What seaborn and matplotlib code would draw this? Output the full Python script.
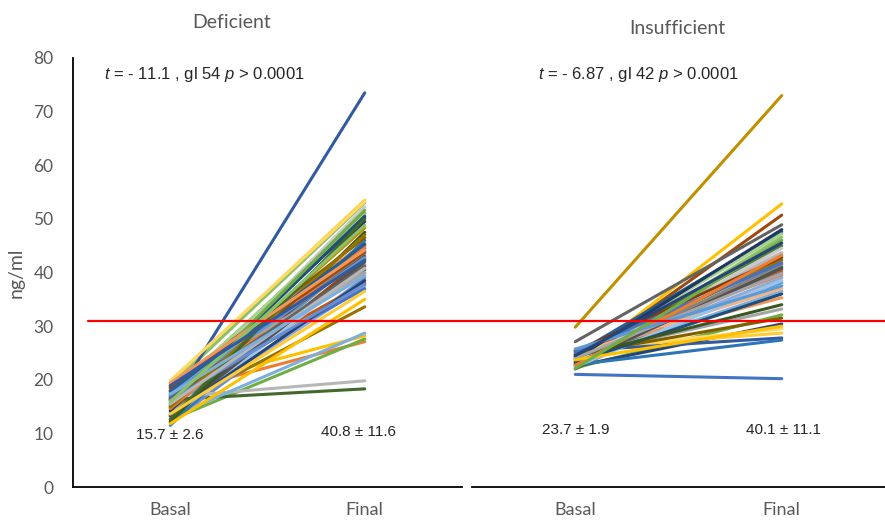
import pandas as pd
import matplotlib.pyplot as plt
import seaborn as sns

# paired values, ng/ml
def_basal = [15.0, 17.5, 16.0, 18.5, 14.0, 12.5, 16.5, 13.5, 17.0, 14.5,
             18.0, 16.3, 12.0, 19.0, 16.8, 19.5, 13.0, 18.8, 15.2, 17.8,
             14.8, 16.2, 11.5, 17.2, 13.8, 18.2, 15.8, 19.8, 12.8, 17.6,
             14.2, 16.6, 13.2, 18.4, 15.6, 12.2, 16.9, 14.6, 19.2, 11.8,
             17.4, 15.4, 13.4, 18.6, 16.4, 14.9, 17.9, 12.6, 16.1, 19.4,
             15.5, 13.6, 17.3, 15.9, 18.9]
def_final = [44.5, 27.1, 41.5, 28.2, 43.5, 27.6, 50.2, 42.5, 40.5, 33.6,
             45.0, 18.3, 39.0, 45.5, 19.8, 53.5, 28.7, 53.0, 73.5, 38.0,
             44.0, 48.3, 46.0, 51.0, 37.5, 39.8, 52.2, 53.2, 41.0, 50.8,
             49.5, 43.0, 42.0, 46.5, 50.5, 47.5, 37.0, 44.8, 40.0, 35.0,
             42.8, 51.6, 38.5, 43.8, 41.2, 47.0, 45.3, 50.0, 37.8, 44.2,
             40.8, 36.5, 39.4, 48.8, 42.3]

ins_basal = [21.0, 25.5, 24.5, 23.0, 24.0, 22.2, 22.5, 23.2, 27.1, 23.8,
             24.8, 22.0, 25.2, 25.0, 24.2, 25.8, 23.5, 22.6, 25.4, 24.6,
             23.4, 29.8, 22.8, 24.4, 23.6, 24.9, 23.1, 25.6, 22.4, 24.1,
             23.9, 25.3, 22.9, 24.7, 23.3, 24.3, 25.1, 22.7, 24.0, 23.7,
             25.7, 22.1, 24.5]
ins_final = [20.2, 39.5, 33.2, 52.8, 38.1, 32.1, 30.4, 50.7, 48.9, 42.3,
             47.6, 41.0, 40.1, 35.3, 43.7, 28.7, 36.5, 46.6, 27.8, 40.5,
             41.5, 73.0, 27.4, 45.0, 39.0, 37.0, 44.5, 29.5, 38.5, 47.2,
             48.0, 42.8, 40.8, 31.5, 36.0, 34.0, 41.8, 43.2, 39.8, 30.0,
             37.5, 46.0, 45.5]

times = ["Basal", "Final"]
groups = ["Deficient", "Insufficient"]
stats_txt = ["$t$ = - 11.1 , gl 54 $p$ > 0.0001", "$t$ = - 6.87 , gl 42 $p$ > 0.0001"]
means_txt = [("15.7 ± 2.6", "40.8 ± 11.6"), ("23.7 ± 1.9", "40.1 ± 11.1")]
cutoff = 31

excel = ["#4472C4", "#ED7D31", "#A5A5A5", "#FFC000", "#5B9BD5", "#70AD47",
         "#264478", "#9E480E", "#636363", "#997300", "#255E91", "#43682B",
         "#698ED0", "#F1975A", "#B7B7B7", "#FFCD33", "#7CAFDD", "#8CC168",
         "#335AA1", "#C55A11", "#848484", "#BF9000", "#2E75B6", "#548235",
         "#8FAADC", "#F4B183", "#C9C9C9", "#FFD966", "#9DC3E6", "#A9D18E",
         "#203864", "#843C0C", "#525252", "#7F6000", "#1F4E79", "#385723"]


def long_df(basal, final):
    rows = []
    for i, (b, f) in enumerate(zip(basal, final)):
        rows.append({"subject": i, "x": 0, "value": b})
        rows.append({"subject": i, "x": 1, "value": f})
    return pd.DataFrame(rows)


sns.set_style("white")
plt.rcParams["font.family"] = ["Lato", "DejaVu Sans"]
plt.rcParams["mathtext.fontset"] = "custom"
plt.rcParams["mathtext.it"] = "Liberation Sans:italic"
plt.rcParams["mathtext.rm"] = "Liberation Sans"

fig = plt.figure(figsize=(8.85, 5.2), dpi=100)
ax1 = fig.add_axes([73 / 885, 33 / 520, 389 / 885, 429 / 520])
ax2 = fig.add_axes([472 / 885, 33 / 520, 413 / 885, 429 / 520])

grey = "#595959"
data = [(def_basal, def_final), (ins_basal, ins_final)]
for k, ax in enumerate([ax1, ax2]):
    b, f = data[k]
    df = long_df(b, f)
    pal = [excel[i % len(excel)] for i in range(len(b))]
    sns.lineplot(data=df, x="x", y="value", hue="subject", palette=pal,
                 estimator=None, legend=False, lw=2.2, ax=ax)
    ax.set_ylim(0, 80)
    ax.set_xlim(-0.5, 1.5)
    ax.set_xticks([0, 1])
    ax.set_xticklabels(times, fontsize=13, color=grey)
    ax.tick_params(axis="x", length=0, pad=11)
    ax.set_xlabel("")
    ax.set_ylabel("")
    for s in ["top", "right"]:
        ax.spines[s].set_visible(False)
    ax.spines["bottom"].set_color("black")
    ax.spines["bottom"].set_linewidth(1.3)
    ax.text(0.08 if k == 0 else 0.16, 76.9, stats_txt[k], fontsize=12,
            transform=ax.get_yaxis_transform(), family="Liberation Sans",
            va="center")
    ax.text(0, 9.7 if k == 0 else 10.6, means_txt[k][0], fontsize=11,
            ha="center", va="center", family="Liberation Sans")
    ax.text(1 - 0.03 if k == 0 else 1.01, 10.3 if k == 0 else 10.6, means_txt[k][1],
            fontsize=11, ha="center", va="center", family="Liberation Sans")

ax1.set_yticks(range(0, 81, 10))
ax1.tick_params(axis="y", length=0, pad=14, labelsize=12.5, labelcolor=grey)
ax1.spines["left"].set_color("black")
ax1.spines["left"].set_linewidth(1.3)
ax1.set_ylabel("ng/ml", fontsize=14, color=grey, labelpad=6)
ax2.spines["left"].set_visible(False)
ax2.set_yticks([])

fig.text(232 / 885, 1 - 22 / 520, groups[0], fontsize=14, color=grey,
         ha="center", va="center")
fig.text(677 / 885, 1 - 28 / 520, groups[1], fontsize=14, color=grey,
         ha="center", va="center")

# 30 ng/ml sufficiency cut-off running across both panels
ax1.axhline(cutoff, xmin=15 / 389, xmax=1.03, color="#FF0000", lw=1.6,
            clip_on=False)
ax2.axhline(cutoff, xmin=0, xmax=1, color="#FF0000", lw=1.6, clip_on=False)

fig.savefig("out.png", dpi=100)
